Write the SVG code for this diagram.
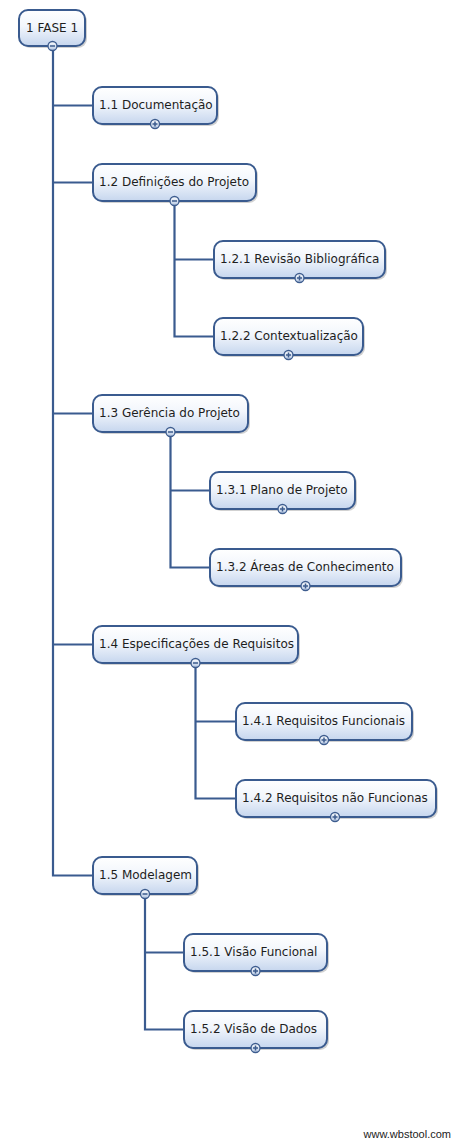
<svg xmlns="http://www.w3.org/2000/svg" xmlns:xlink="http://www.w3.org/1999/xlink" width="454" height="1145" viewBox="0 0 454 1145">
<defs>
<linearGradient id="g" x1="0" y1="0" x2="0" y2="1">
<stop offset="0" stop-color="#ffffff"/>
<stop offset="0.45" stop-color="#f2f6fc"/>
<stop offset="1" stop-color="#c6d6ee"/>
</linearGradient>
<linearGradient id="gc" x1="0" y1="0" x2="0" y2="1">
<stop offset="0" stop-color="#ffffff"/>
<stop offset="1" stop-color="#b3c6e2"/>
</linearGradient>
<g id="minus"><circle r="4.5" fill="url(#gc)" stroke="#3d5c8e" stroke-width="1.3"/><path d="M-2.5 0H2.5" stroke="#3d5c8e" stroke-width="1.5"/></g>
<g id="plus"><circle r="4.5" fill="url(#gc)" stroke="#3d5c8e" stroke-width="1.3"/><path d="M-2.5 0H2.5M0 -2.5V2.5" stroke="#3d5c8e" stroke-width="1.5"/></g>
</defs>
<style>
.sh{fill:#000;opacity:0.18}
.bx{fill:url(#g);stroke:#3a5b8f;stroke-width:2}
.t{font-family:"DejaVu Sans",Verdana,sans-serif;font-size:12px;fill:#1e1e1e}
.c{fill:none;stroke:#3a5b8f;stroke-width:2.2}
.w{font-family:"Liberation Sans",Arial,sans-serif;font-size:11px;fill:#222}
</style>
<rect width="454" height="1145" fill="#ffffff"/>
<g id="connectors">
<path class="c" d="M53 46V875.5H93M53 105.5H93M53 182.5H93M53 413.5H93M53 644.5H93"/>
<path class="c" d="M174.5 201V336.5H214M174.5 259.5H214"/>
<path class="c" d="M170.5 432V567.5H210M170.5 490.5H210"/>
<path class="c" d="M195.5 663V798.5H236M195.5 721.5H236"/>
<path class="c" d="M145 894V1029.5H184M145 952.5H184"/>
</g>
<g id="n1"><rect class="sh" x="21" y="12" width="66" height="36" rx="9"/><rect class="bx" x="19" y="10" width="66" height="36" rx="9"/><text class="t" x="26" y="32">1 FASE 1</text><use xlink:href="#minus" x="52.5" y="46"/></g>
<g id="n1_1"><rect class="sh" x="95" y="89" width="124" height="37" rx="9"/><rect class="bx" x="93" y="87" width="124" height="37" rx="9"/><text class="t" x="99" y="109">1.1 Documentação</text><use xlink:href="#plus" x="155" y="124"/></g>
<g id="n1_2"><rect class="sh" x="95" y="166" width="163" height="37" rx="9"/><rect class="bx" x="93" y="164" width="163" height="37" rx="9"/><text class="t" x="99" y="186">1.2 Definições do Projeto</text><use xlink:href="#minus" x="174.5" y="201"/></g>
<g id="n1_2_1"><rect class="sh" x="216" y="243" width="171" height="37" rx="9"/><rect class="bx" x="214" y="241" width="171" height="37" rx="9"/><text class="t" x="220" y="263">1.2.1 Revisão Bibliográfica</text><use xlink:href="#plus" x="299.5" y="278"/></g>
<g id="n1_2_2"><rect class="sh" x="216" y="320" width="149" height="37" rx="9"/><rect class="bx" x="214" y="318" width="149" height="37" rx="9"/><text class="t" x="220" y="340">1.2.2 Contextualização</text><use xlink:href="#plus" x="288.5" y="355"/></g>
<g id="n1_3"><rect class="sh" x="95" y="397" width="155" height="37" rx="9"/><rect class="bx" x="93" y="395" width="155" height="37" rx="9"/><text class="t" x="99" y="417">1.3 Gerência do Projeto</text><use xlink:href="#minus" x="170.5" y="432"/></g>
<g id="n1_3_1"><rect class="sh" x="212" y="474" width="145" height="37" rx="9"/><rect class="bx" x="210" y="472" width="145" height="37" rx="9"/><text class="t" x="216" y="494">1.3.1 Plano de Projeto</text><use xlink:href="#plus" x="282.5" y="509"/></g>
<g id="n1_3_2"><rect class="sh" x="212" y="551" width="191" height="37" rx="9"/><rect class="bx" x="210" y="549" width="191" height="37" rx="9"/><text class="t" x="216" y="571">1.3.2 Áreas de Conhecimento</text><use xlink:href="#plus" x="305.5" y="586"/></g>
<g id="n1_4"><rect class="sh" x="95" y="628" width="205" height="37" rx="9"/><rect class="bx" x="93" y="626" width="205" height="37" rx="9"/><text class="t" x="99" y="648">1.4 Especificações de Requisitos</text><use xlink:href="#minus" x="195.5" y="663"/></g>
<g id="n1_4_1"><rect class="sh" x="238" y="705" width="176" height="37" rx="9"/><rect class="bx" x="236" y="703" width="176" height="37" rx="9"/><text class="t" x="242" y="725">1.4.1 Requisitos Funcionais</text><use xlink:href="#plus" x="324" y="740"/></g>
<g id="n1_4_2"><rect class="sh" x="238" y="782" width="200" height="37" rx="9"/><rect class="bx" x="236" y="780" width="200" height="37" rx="9"/><text class="t" x="242" y="802">1.4.2 Requisitos não Funcionas</text><use xlink:href="#plus" x="335" y="817"/></g>
<g id="n1_5"><rect class="sh" x="95" y="859" width="104" height="37" rx="9"/><rect class="bx" x="93" y="857" width="104" height="37" rx="9"/><text class="t" x="99" y="879">1.5 Modelagem</text><use xlink:href="#minus" x="145" y="894"/></g>
<g id="n1_5_1"><rect class="sh" x="186" y="936" width="143" height="37" rx="9"/><rect class="bx" x="184" y="934" width="143" height="37" rx="9"/><text class="t" x="190" y="956">1.5.1 Visão Funcional</text><use xlink:href="#plus" x="255.5" y="971"/></g>
<g id="n1_5_2"><rect class="sh" x="186" y="1013" width="143" height="37" rx="9"/><rect class="bx" x="184" y="1011" width="143" height="37" rx="9"/><text class="t" x="190" y="1033">1.5.2 Visão de Dados</text><use xlink:href="#plus" x="255.5" y="1048"/></g>
<text class="w" x="451" y="1138" text-anchor="end">www.wbstool.com</text>
</svg>
